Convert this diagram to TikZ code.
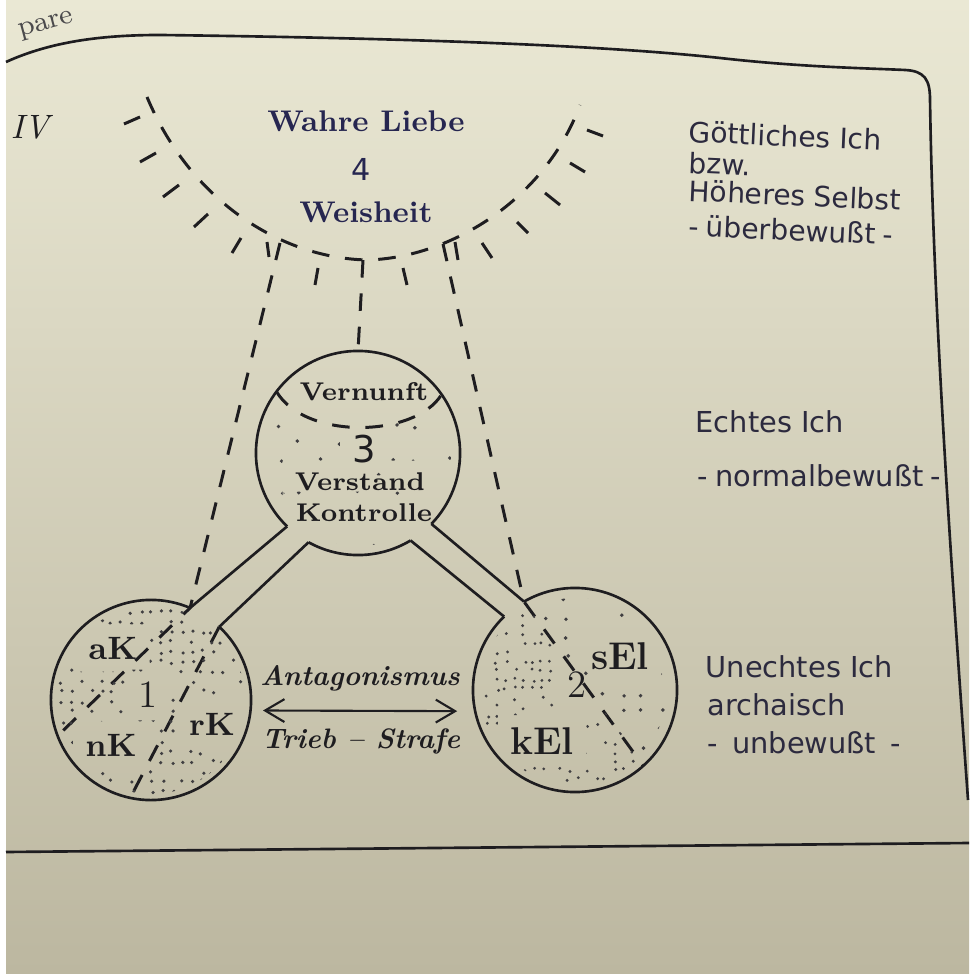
\documentclass[tikz,border=0pt]{standalone}
\usepackage{fontspec}
\usetikzlibrary{arrows.meta, calc}
\newfontfamily\sidefont{DejaVu Sans}
\newcommand\setfs[1]{\fontsize{#1}{#1}\selectfont}
\definecolor{papertop}{RGB}{234,232,212}
\definecolor{paperbot}{RGB}{188,183,160}
\definecolor{inkc}{RGB}{30,29,32}
\definecolor{navy}{RGB}{38,38,80}
\definecolor{sidec}{RGB}{44,42,62}

\begin{document}
\begin{tikzpicture}[
    x = 0.01cm, y = -0.01cm, % one unit = one pixel of the page, y downwards
    > = {Straight Barb[length=5.5pt, width=6.5pt]}, % open arrow head
    line join = round,
    ink/.style = {draw = inkc, line width = 0.75pt},
    guide/.style = {draw = inkc, line width = 0.85pt, dash pattern = on 5pt off 4.5pt},
    hair/.style = {draw = inkc, line width = 0.85pt},
    ball/.style = {circle, inner sep = 0pt, outer sep = 0pt, minimum size = #1},
    headword/.style = {text = navy, font = \bfseries\setfs{8.5}},
    midword/.style = {text = inkc, font = \bfseries\setfs{7.3}},
    cornerword/.style = {text = inkc, font = \bfseries\setfs{9.2}},
    sidenote/.style = {text = sidec, font = \sidefont\setfs{8.2}, anchor = base west, inner sep = 0pt},
    speck/.style = {fill = inkc!85}
    ]

    % paper
    \useasboundingbox (0,0) rectangle (969,974);
    \fill[white] (0,0) rectangle (969,974);
    \shade[top color = papertop, bottom color = paperbot] (6,0) rectangle (969,974);

    % frame
    \draw[ink] (6,62) .. controls (50,42) and (100,35) .. (160,35)
        .. controls (400,38) and (600,45) .. (720,58)
        .. controls (800,67) and (860,68) .. (905,70)
        .. controls (925,71) and (930,80) .. (930,100)
        .. controls (933,300) and (950,550) .. (968,800);
    \draw[ink] (6,852) -- (969,843);
    \node[text = inkc!80, font = \setfs{8}, rotate = 15, anchor = base west] (pare) at (8,40) {pare};
    \node[text = inkc, font = \itshape\setfs{9.6}] (roman) at (30,127) {IV};

    % the three circles
    \node[ball = 2cm] (one) at (151,700) {};
    \node[ball = 2.04cm] (two) at (575,690) {};
    \node[ball = 2.04cm] (three) at (358,453) {};

    \draw[ink] (one.67) arc[start angle = 67, end angle = 407, radius = 1cm];
    \draw[ink] (two.134) arc[start angle = 134, end angle = 480, radius = 1.02cm];
    \draw[ink] (three.241) arc[start angle = 241, end angle = 301, radius = 1.02cm];
    \draw[ink] (three.316) arc[start angle = 316, end angle = 586, radius = 1.02cm];

    % tubes
    \draw[ink] (three.226) -- (one.67);
    \draw[ink] (three.241) -- (one.47);
    \draw[ink] (three.316) -- (two.120);
    \draw[ink] (three.301) -- (two.134);

    % the bowl on top
    \draw[guide] (147,97) .. controls (190,200) and (280,258) .. (367,260)
        .. controls (450,258) and (545,200) .. (580,105);
    \foreach \xa/\ya/\xb/\yb in {124/124/140/117, 140/162/156/153, 163/197/179/185,
        194/227/208/214, 232/253/241/238, 267/242/269/257, 318/268/315/285,
        403/268/407/285, 455/242/458/260, 482/243/492/258, 517/222/528/233,
        545/193/560/205, 570/163/585/172, 587/130/603/136}
        \draw[hair] (\xa,\ya) -- (\xb,\yb);

    \coordinate (bowlL) at (280,243);
    \coordinate (bowlM) at (363,260);
    \coordinate (bowlR) at (443,244);

    \draw[guide] (bowlL) -- (one.67) -- (one.201);
    \draw[guide] (one.47) -- (one.258);
    \draw[guide] (bowlM) -- (three.90);
    \draw[guide] (bowlR) -- (two.120) -- (two.312);
    \draw[guide] (three.143) .. controls (305,440) and (415,438) .. (three.35);

    % labels
    \node[headword] (wahre) at (366,121) {Wahre Liebe};
    \node[text = navy, font = \sidefont\setfs{8.6}] (four) at (361,169) {4};
    \node[headword] (weisheit) at (366,212) {Weisheit};

    \node[midword] (vernunft) at (364,392) {Vernunft};
    \node[text = inkc, font = \sidefont\setfs{10.5}] (three-num) at (364,449) {3};
    \node[midword] (verstand) at (360,482) {Verstand};
    \node[midword] (kontrolle) at (364,513) {Kontrolle};

    \node[cornerword] (ak) at (113,648) {aK};
    \node[cornerword] (nk) at (111,745) {nK};
    \node[cornerword] (rk) at (212,724) {rK};
    \node[text = inkc, font = \setfs{11}] (one-num) at (148,695) {1};

    \node[cornerword, font = \bfseries\setfs{11}] (sel) at (620,656) {sEl};
    \node[cornerword, font = \bfseries\setfs{11}] (kel) at (542,741) {kEl};
    \node[text = inkc, font = \setfs{11}] (two-num) at (577,685) {2};

    \draw[<->, draw = inkc, line width = 0.6pt, shorten <= 0.125cm, shorten >= 0.18cm] (one.-6) -- (two.192);
    \node[text = inkc, font = \bfseries\itshape\setfs{8}, anchor = base] (antag) at (360,685) {Antagonismus};
    \node[text = inkc, font = \bfseries\itshape\setfs{8}, anchor = base] (trieb) at (361,748) {Trieb -- Strafe};

    \node[sidenote, font = \sidefont\setfs{8}, rotate = -2.5] (goettlich) at (688,142) {Göttliches Ich};
    \node[sidenote, font = \sidefont\setfs{8}, rotate = -2.5] (bzw) at (688,173) {bzw.};
    \node[sidenote, font = \sidefont\setfs{8}, rotate = -2.5] (hoeher) at (688,201) {Höheres Selbst};
    \node[sidenote, font = \sidefont\setfs{8}, rotate = -2.5] (ueber) at (688,236) {-\kern2pt überbewußt\kern2pt-};
    \node[sidenote] (echt) at (695,433) {Echtes Ich};
    \node[sidenote] (normal) at (697,487) {-\kern2pt normalbewußt\kern2pt-};
    \node[sidenote] (unecht) at (705,677) {Unechtes Ich};
    \node[sidenote] (archaisch) at (707,715) {archaisch};
    \node[sidenote] (unbewusst) at (707,753) {-\kern4pt unbewußt\kern4pt-};

    % stippling
    \pgfmathsetseed{4711}
    \begin{scope}[even odd rule]
        \clip (one.center) circle[radius = 0.94cm];
        \clip (40,590) rectangle (260,810)
            (ak.south west) rectangle (ak.north east)
            (nk.south west) rectangle (nk.north east)
            (rk.south west) rectangle (rk.north east)
            (one-num.south west) rectangle (one-num.north east);
        \foreach \i in {0,...,20}{
            \foreach \j in {0,...,20}{
                \pgfmathtruncatemacro\keep{rnd<0.6}
                \ifnum\keep=1
                    \fill[speck] (52+\i*10+2*rand, 602+\j*10+2*rand) circle[radius = 0.5pt];
                \fi}}
    \end{scope}

    \begin{scope}[even odd rule]
        \clip (two.center) circle[radius = 0.95cm];
        \clip (505,575) -- (660,790) -- (460,800) -- (460,575) -- cycle;
        \clip (460,575) rectangle (690,800)
            (kel.south west) rectangle (kel.north east)
            (two-num.south west) rectangle (two-num.north east);
        \foreach \i in {0,...,24}{
            \foreach \j in {0,...,24}{
                \pgfmathtruncatemacro\keep{rnd<0.5}
                \ifnum\keep=1
                    \fill[speck] (470+\i*9+2*rand, 590+\j*9+2*rand) circle[radius = 0.45pt];
                \fi}}
    \end{scope}

    \begin{scope}[even odd rule]
        \clip (two.center) circle[radius = 0.92cm];
        \clip (505,575) -- (660,790) -- (700,790) -- (700,575) -- cycle;
        \clip (480,575) rectangle (700,800)
            (sel.south west) rectangle (sel.north east)
            (two-num.south west) rectangle (two-num.north east);
        \foreach \i in {0,...,7}{
            \foreach \j in {0,...,10}{
                \pgfmathtruncatemacro\keep{rnd<0.75}
                \ifnum\keep=1
                    \fill[speck] (528+\i*19+3*rand, 598+\j*19+3*rand) circle[radius = 0.55pt];
                \fi}}
    \end{scope}

    \begin{scope}[even odd rule]
        \clip (three.center) circle[radius = 0.93cm];
        \clip (three.143) .. controls (305,440) and (415,438) .. (three.35) -- (470,570) -- (250,570) -- cycle;
        \clip (250,380) rectangle (470,570)
            (verstand.south west) rectangle (verstand.north east)
            (kontrolle.south west) rectangle (kontrolle.north east)
            (three-num.south west) rectangle (three-num.north east);
        \foreach \i in {0,...,10}{
            \foreach \j in {0,...,8}{
                \pgfmathtruncatemacro\keep{rnd<0.55}
                \ifnum\keep=1
                    \fill[speck] (262+\i*19+3*rand, 425+\j*17+3*rand) circle[radius = 0.55pt];
                \fi}}
    \end{scope}

\end{tikzpicture}
\end{document}
